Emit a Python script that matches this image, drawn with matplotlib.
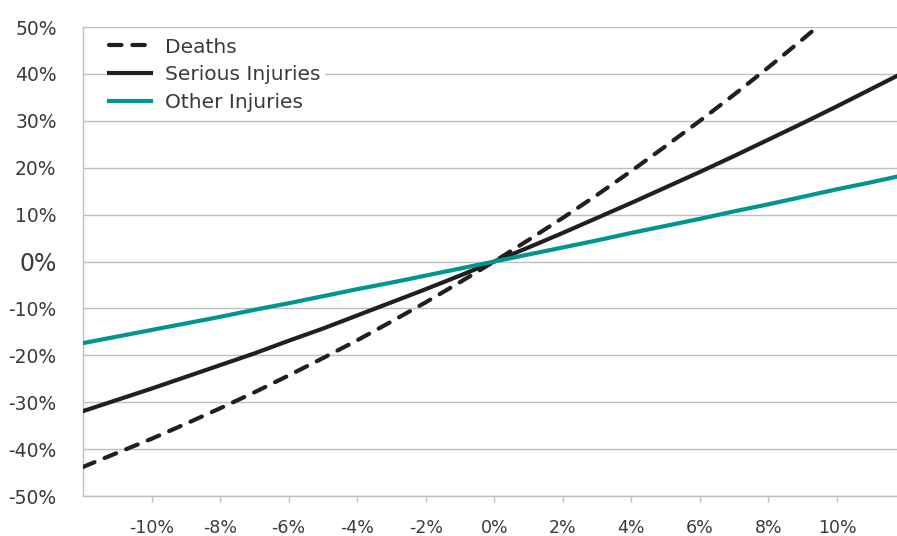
import matplotlib
matplotlib.use("Agg")
import matplotlib.pyplot as plt
from matplotlib.ticker import FixedLocator

# speed change (%) and resulting change in crashes (%)
speed_change = [-12, -11, -10, -9, -8, -7, -6, -5, -4, -3, -2, -1, 0,
                1, 2, 3, 4, 5, 6, 7, 8, 9, 10, 11, 12]
deaths = [-43.8, -40.8, -37.8, -34.6, -31.3, -27.9, -24.3, -20.6, -16.8, -12.8, -8.7, -4.4, 0,
          4.6, 9.3, 14.2, 19.3, 24.6, 30.0, 35.6, 41.4, 47.4, 53.6, 59.9, 66.6]
serious = [-31.9, -29.5, -27.1, -24.6, -22.1, -19.6, -16.9, -14.3, -11.5, -8.7, -5.9, -3.0, 0,
           3.0, 6.1, 9.3, 12.5, 15.8, 19.1, 22.5, 26.0, 29.5, 33.1, 36.8, 40.5]
other = [-17.4, -16.0, -14.6, -13.2, -11.8, -10.3, -8.9, -7.4, -5.9, -4.5, -3.0, -1.5, 0,
         1.5, 3.0, 4.5, 6.1, 7.6, 9.1, 10.7, 12.2, 13.8, 15.4, 16.9, 18.5]

x_ticks = [-10, -8, -6, -4, -2, 0, 2, 4, 6, 8, 10]
y_ticks = [-50, -40, -30, -20, -10, 0, 10, 20, 30, 40, 50]

dark = "#231f20"
teal = "#00958f"
grey = "#bfbfbf"
label_col = "#3a3a3a"

plt.rcParams['font.family'] = ['DejaVu Sans']

fig = plt.figure(figsize=(8.97, 5.36), dpi=100)
ax = fig.add_axes([0.0925, 0.0746, 0.9075, 0.875])

ax.plot(speed_change, deaths, color=dark, lw=3, linestyle=(0, (3.0, 2.6)),
        dash_capstyle='round', label='Deaths', zorder=3)
ax.plot(speed_change, serious, color=dark, lw=3, label='Serious Injuries', zorder=3)
ax.plot(speed_change, other, color=teal, lw=3, label='Other Injuries', zorder=3)

ax.set_xlim(-12, 11.75)
ax.set_ylim(-50, 50)

ax.yaxis.set_major_locator(FixedLocator(y_ticks))
ax.xaxis.set_major_locator(FixedLocator(x_ticks))
ax.set_yticklabels([f"{v}%" for v in y_ticks])
ax.set_xticklabels([f"{v}%" for v in x_ticks])

ax.grid(axis='y', color=grey, lw=1)
ax.set_axisbelow(True)
for s in ['top', 'right']:
    ax.spines[s].set_visible(False)
for s in ['left', 'bottom']:
    ax.spines[s].set_color(grey)
    ax.spines[s].set_linewidth(1)

ax.tick_params(axis='y', length=0, pad=19, labelsize=13.5, labelcolor=label_col)
ax.tick_params(axis='x', length=4.5, width=1, color=grey, pad=12, labelsize=12.5,
               labelcolor=label_col)
for t in ax.get_yticklabels():
    if t.get_text() == "0%":
        t.set_fontsize(17)

leg = ax.legend(loc='upper left', bbox_to_anchor=(0.028, 0.984), frameon=True,
                fontsize=14.5, handlelength=2.1, labelspacing=0.44,
                borderpad=0.15, handletextpad=0.7, borderaxespad=0)
leg.get_frame().set_facecolor('white')
leg.get_frame().set_edgecolor('white')
leg.get_frame().set_alpha(1)
for t in leg.get_texts():
    t.set_color(label_col)

fig.savefig("out.png", dpi=100)
